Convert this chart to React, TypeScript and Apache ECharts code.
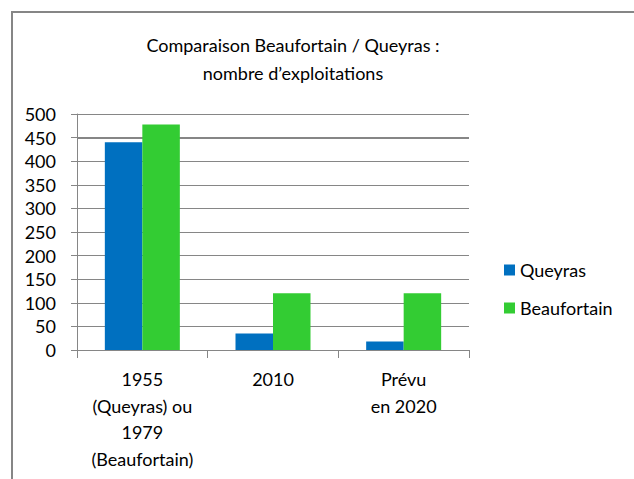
import React, { useEffect, useRef } from "react";
import * as echarts from "echarts";

const categories = ["1955\n(Queyras) ou\n1979\n(Beaufortain)", "2010", "Prévu\nen 2020"];
const queyras = [440, 35, 18];
const beaufortain = [478, 120, 120];
const seriesNames = ["Queyras", "Beaufortain"];
const titleLines = ["Comparaison Beaufortain / Queyras :", "nombre d’exploitations"];

const FONT = "Lato, 'Open Sans', sans-serif";
const GRAY = "#868686";

export default function App() {
  const ref = useRef<HTMLDivElement>(null);
  useEffect(() => {
    if (!ref.current) return;
    const chart = echarts.init(ref.current, undefined, { renderer: "svg" });
    chart.setOption({
      animation: false,
      backgroundColor: "#ffffff",
      textStyle: { fontFamily: FONT },
      graphic: [
        {
          type: "rect",
          shape: { x: 12, y: 12, width: 700, height: 560 },
          style: { fill: "none", stroke: GRAY, lineWidth: 2 },
          silent: true,
        },
        {
          type: "text",
          x: 293,
          y: 31,
          style: {
            text: titleLines.join("\n"),
            fill: "#000",
            font: `18px ${FONT}`,
            align: "center",
            lineHeight: 28,
          },
        },
      ],
      legend: {
        orient: "vertical",
        left: 504,
        top: 261,
        padding: 0,
        icon: "rect",
        itemWidth: 11,
        itemHeight: 11,
        itemGap: 20,
        data: seriesNames,
        textStyle: { fontFamily: FONT, fontSize: 18, color: "#000", lineHeight: 18 },
      },
      grid: { left: 77, top: 114, right: 165, bottom: 129, containLabel: false },
      xAxis: {
        type: "category",
        data: categories,
        axisLine: { lineStyle: { color: GRAY, width: 1 } },
        axisTick: { show: true, length: 8, lineStyle: { color: GRAY } },
        axisLabel: {
          interval: 0,
          color: "#000",
          fontFamily: FONT,
          fontSize: 18,
          lineHeight: 26.5,
          margin: 16,
        },
      },
      yAxis: {
        type: "value",
        min: 0,
        max: 500,
        interval: 50,
        axisLine: { show: true, lineStyle: { color: GRAY } },
        axisTick: { show: true, length: 6, lineStyle: { color: GRAY } },
        splitLine: { lineStyle: { color: GRAY, width: 1 } },
        axisLabel: { color: "#000", fontFamily: FONT, fontSize: 18, margin: 21 },
      },
      series: [
        {
          name: seriesNames[0],
          type: "bar",
          data: queyras,
          barWidth: 37.5,
          barGap: "0%",
          itemStyle: { color: "#0070C0" },
          markLine: {
            silent: true,
            symbol: ["none", "none"],
            label: { show: false },
            lineStyle: { color: GRAY, width: 2, type: "solid" },
            data: [{ yAxis: 450 }],
            z: 1,
          },
        },
        {
          name: seriesNames[1],
          type: "bar",
          data: beaufortain,
          barWidth: 37.5,
          barGap: "0%",
          itemStyle: { color: "#33CC33" },
        },
      ],
    });
    return () => chart.dispose();
  }, []);
  return (
    <div
      ref={ref}
      style={{ position: "fixed", left: 0, top: 0, width: 634, height: 479 }}
    />
  );
}
